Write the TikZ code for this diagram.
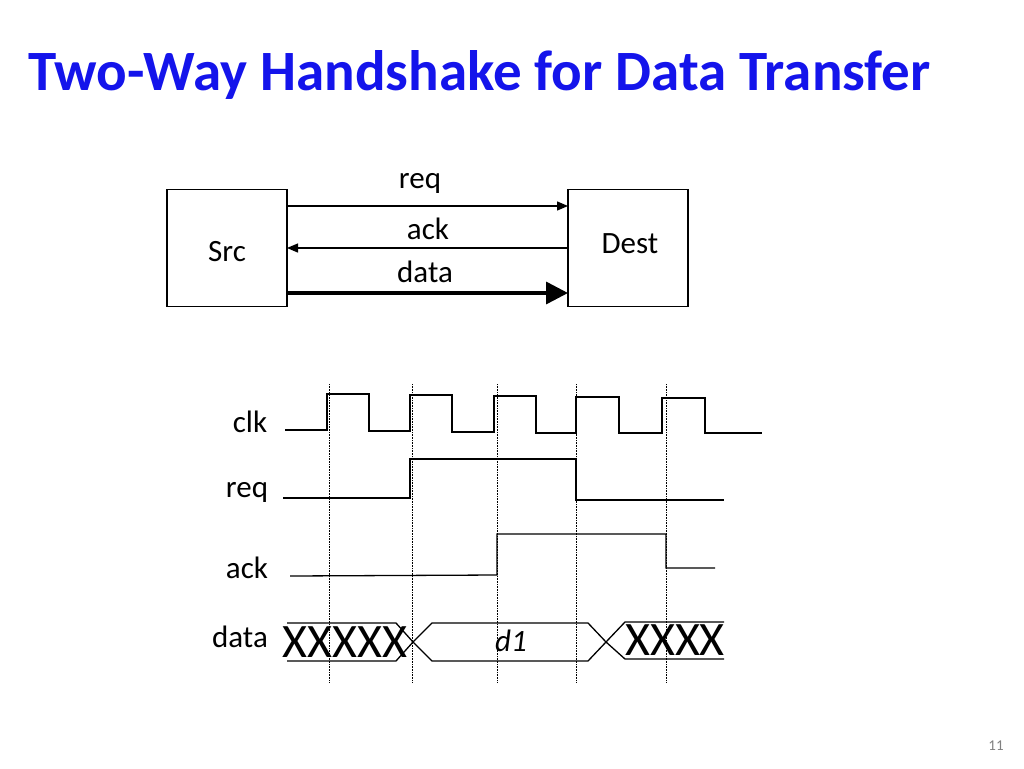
\documentclass[tikz,border=0pt]{standalone}
\usepackage{fontspec}
\setmainfont{Carlito}
\usetikzlibrary{arrows.meta}
\definecolor{titleblue}{RGB}{20,20,235}
\begin{document}
\begin{tikzpicture}[x=1pt,y=-1pt]
\tikzstyle{caja}=[draw,line width=1.2pt,minimum width=120pt,minimum height=117pt]
\tikzstyle{senal}=[line width=1.3pt]
\tikzstyle{guia}=[densely dotted,line width=0.6pt]
\tikzstyle{rotulo}=[font=\fontsize{31}{34}\selectfont]
\useasboundingbox (0,0) rectangle (1024,768);

\node[anchor=base west,text=titleblue,font=\fontsize{57}{62}\selectfont\bfseries,inner sep=0] (titulo) at (28,90) {Two-Way Handshake for Data Transfer};

% bloques
\node[caja] (src) at (227,248) {};
\node[caja] (dest) at (628,248) {};
\node[rotulo] (lsrc) at (227,252) {Src};
\node[rotulo] (ldest) at (630,244) {Dest};
\coordinate (s1) at (287,206); \coordinate (d1) at (568,206);
\coordinate (s2) at (287,248); \coordinate (d2) at (568,248);
\coordinate (s3) at (287,293); \coordinate (d3) at (568,293);
\draw[senal,-{Triangle[length=11pt,width=9pt]}] (s1) -- (d1);
\draw[senal,-{Triangle[length=11pt,width=9pt]}] (d2) -- (s2);
\draw[line width=3.5pt,-{Triangle[length=22pt,width=22pt]}] (s3) -- (d3);
\node[rotulo] (lreq) at (420,183) {req};
\node[rotulo] (lack) at (428,229) {ack};
\node[rotulo] (ldata) at (425,272) {data};

% guias
\foreach \x in {329,412,497,576,666}
  \draw[guia] (\x,384) -- (\x,683);

% etiquetas
\node[rotulo] (nclk) at (250,422) {clk};
\node[rotulo] (nreq) at (247,492) {req};
\node[rotulo] (nack) at (247,568) {ack};
\node[rotulo] (ndata) at (240,637) {data};

% formas de onda
\draw[senal] (285,430) -- (327,430) -- (327,394) -- (369,394) -- (369,431) -- (410,431) -- (410,395)
  -- (452,395) -- (452,432) -- (494,432) -- (494,396) -- (536,396) -- (536,433) -- (576,433)
  -- (576,397) -- (619,397) -- (619,433) -- (662,433) -- (662,398) -- (705,398) -- (705,433) -- (762,433);
\draw[senal] (283,498) -- (410,498) -- (410,459) -- (576,459) -- (576,500) -- (724,500);
\draw[senal] (290,576) -- (497,575) -- (497,534) -- (666,534) -- (666,568) -- (715,568);

\draw[senal] (287,623) -- (396,623) -- (413,642) -- (396,661) -- (287,661);
\draw[senal] (413,642) -- (432,623) -- (588,623) -- (606,642) -- (588,661) -- (432,661) -- cycle;
\draw[senal] (724,622) -- (625,622) -- (606,642) -- (625,659) -- (724,659);
\node[font=\fontsize{48}{48}\selectfont,inner sep=0] (xizq) at (345,642) {XXXXX};
\node[font=\fontsize{48}{48}\selectfont,inner sep=0] (xder) at (675,640) {XXXX};
\node[font=\fontsize{31}{34}\selectfont\itshape] (nd1) at (511,641) {d1};

\node[text=gray,font=\fontsize{15}{18}\selectfont] (pag) at (996,746) {11};
\end{tikzpicture}
\end{document}
